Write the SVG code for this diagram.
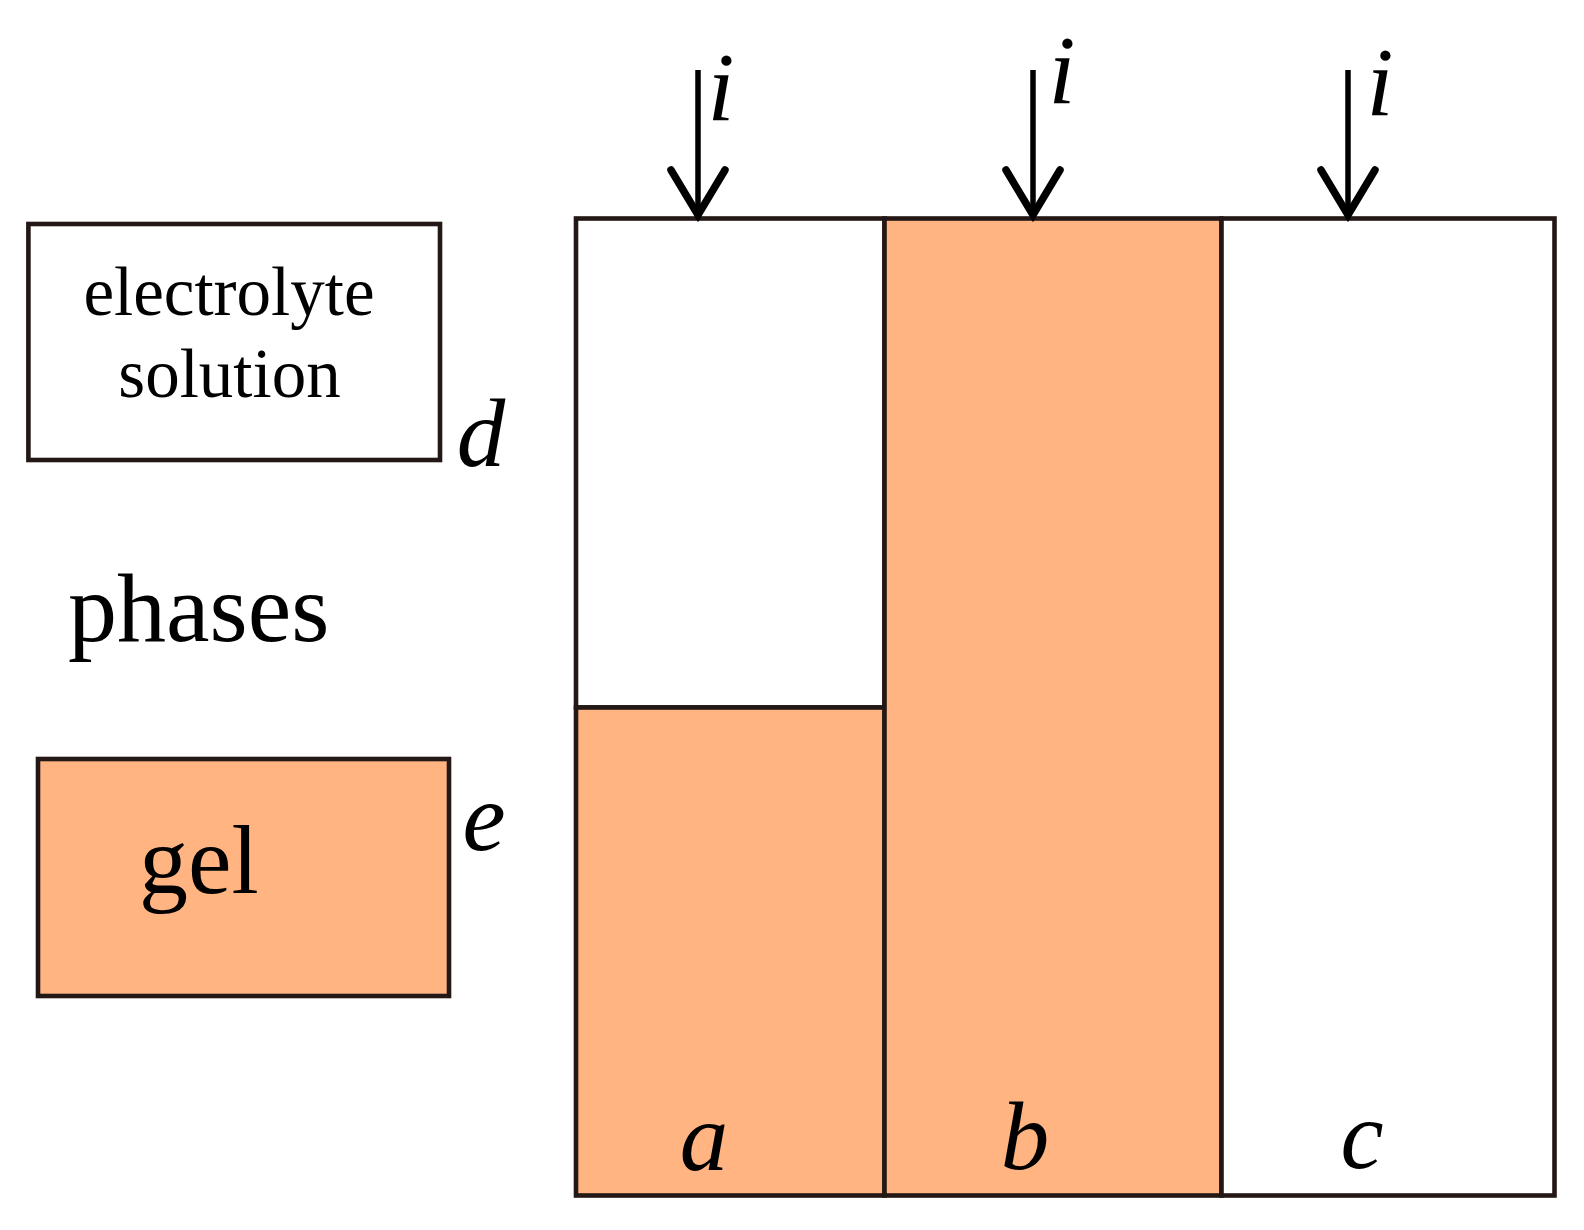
<svg xmlns="http://www.w3.org/2000/svg" width="1584" height="1230" viewBox="0 0 1584 1230">
<style>
.box{stroke:#231815;stroke-width:4.6}
.w{fill:#ffffff}
.o{fill:#ffb482}
.t{font-family:"Liberation Serif","Times New Roman",serif;fill:#000}
.up{font-size:69px}
.big{font-size:98px}
.it{font-family:"Liberation Serif","Times New Roman",serif;font-style:italic;font-size:97px;fill:#000}
.shaft{stroke:#000;stroke-width:5.5;fill:none}
.head{stroke:#000;stroke-width:7.5;fill:none;stroke-linecap:round;stroke-linejoin:miter}
</style>
<rect width="1584" height="1230" fill="#fff"/>
<g id="legend-electrolyte">
<rect class="box w" x="28.4" y="224" width="411.6" height="236"/>
<text class="t up" x="229" y="315" text-anchor="middle">electrolyte</text>
<text class="t up" x="229.5" y="397" text-anchor="middle">solution</text>
<text class="it" x="481" y="466" text-anchor="middle">d</text>
</g>
<g id="label-phases">
<text class="t big" x="68" y="641">phases</text>
</g>
<g id="legend-gel">
<rect class="box o" x="38" y="759" width="411" height="237"/>
<text class="t big" x="139" y="893">gel</text>
<text class="it" x="484" y="850" text-anchor="middle">e</text>
</g>
<g id="column-a">
<rect class="box w" x="576" y="218.5" width="308.5" height="489"/>
<rect class="box o" x="576" y="707.5" width="308.5" height="488"/>
<text class="it" x="704" y="1170" text-anchor="middle">a</text>
</g>
<g id="column-b">
<rect class="box o" x="884.5" y="218.5" width="337" height="977"/>
<text class="it" x="1025" y="1169" text-anchor="middle">b</text>
</g>
<g id="column-c">
<rect class="box w" x="1221.5" y="218.5" width="333" height="977"/>
<text class="it" x="1362" y="1168" text-anchor="middle">c</text>
</g>
<g id="connectors">
<line class="shaft" x1="698" y1="70" x2="698" y2="212"/>
<polyline class="head" points="671,170 698,215 725,170"/>
<text class="it" x="721" y="120" text-anchor="middle">i</text>
<line class="shaft" x1="1033" y1="70" x2="1033" y2="212"/>
<polyline class="head" points="1006,170 1033,215 1060,170"/>
<text class="it" x="1062" y="103" text-anchor="middle">i</text>
<line class="shaft" x1="1348" y1="70" x2="1348" y2="212"/>
<polyline class="head" points="1321,170 1348,215 1375,170"/>
<text class="it" x="1380" y="115" text-anchor="middle">i</text>
</g>
</svg>
